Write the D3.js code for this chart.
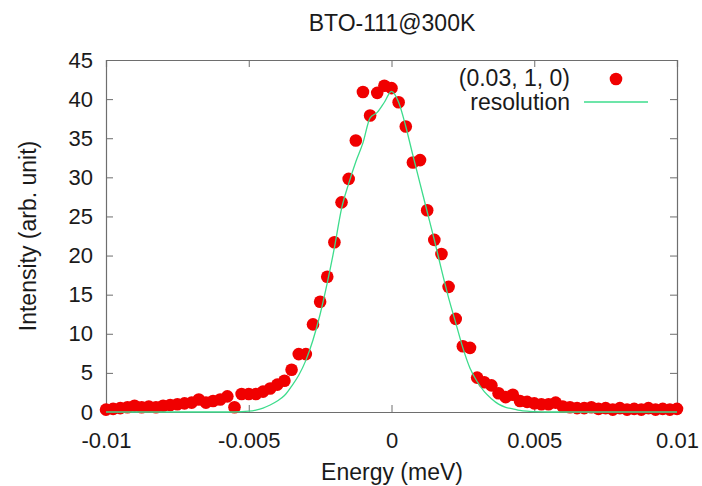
<!DOCTYPE html>
<html><head><meta charset="utf-8">
<script src="https://cdn.jsdelivr.net/npm/d3@7"></script>
<style>body{margin:0;background:#fff;} text{font-family:"Liberation Sans",Arial,sans-serif;fill:#1a1a1a;}</style>
</head><body><svg id="c" width="702" height="486"></svg>
<script>
const energy = [-0.01,-0.00975,-0.0095,-0.00925,-0.009,-0.00875,-0.0085,-0.00825,-0.008,-0.00775,
-0.0075,-0.00725,-0.007,-0.00675,-0.0065,-0.00625,-0.006,-0.00575,-0.0055,-0.00525,
-0.005,-0.00475,-0.0045,-0.00425,-0.004,-0.00375,-0.0035,-0.00325,-0.003,-0.00275,
-0.0025,-0.00225,-0.002,-0.00175,-0.0015,-0.00125,-0.001,-0.00075,-0.0005,-0.00025,
0,0.00025,0.0005,0.00075,0.001,0.00125,0.0015,0.00175,0.002,0.00225,
0.0025,0.00275,0.003,0.00325,0.0035,0.00375,0.004,0.00425,0.0045,0.00475,
0.005,0.00525,0.0055,0.00575,0.006,0.00625,0.0065,0.00675,0.007,0.00725,
0.0075,0.00775,0.008,0.00825,0.0085,0.00875,0.009,0.00925,0.0095,0.00975,0.01];
const intensity = [0.3,0.4,0.5,0.6,0.8,0.6,0.7,0.6,0.8,0.9,
1.0,1.1,1.2,1.6,1.2,1.4,1.6,2.0,0.6,2.3,
2.3,2.3,2.6,3.0,3.5,4.0,5.4,7.4,7.4,11.2,
14.1,17.3,21.7,26.8,29.8,34.7,40.9,37.9,40.8,41.7,
41.4,39.6,36.5,31.9,32.2,25.8,22.0,20.2,16.0,11.9,
8.4,8.2,4.4,3.8,3.4,2.4,1.9,2.2,1.4,1.3,
1.1,1.0,1.0,1.2,0.7,0.6,0.5,0.5,0.6,0.4,
0.5,0.3,0.5,0.3,0.4,0.3,0.5,0.3,0.4,0.3,0.4];
const resEnergy = [-0.01,-0.0055,-0.005,-0.00475,-0.0045,-0.00425,-0.004,-0.00375,-0.0035,-0.00325,-0.003,
-0.00275,-0.0025,-0.00225,-0.002,-0.00175,-0.0015,-0.00125,-0.001,-0.00075,-0.0005,-0.00025,
0,0.00025,0.0005,0.00075,0.001,0.00125,0.0015,0.00175,0.002,0.00225,0.0025,0.00275,
0.003,0.00325,0.0035,0.00375,0.004,0.00425,0.0045,0.00475,0.005,0.0055,0.01];
const resValue = [0,0,0.1,0.25,0.5,0.9,1.4,2.1,3.3,4.7,6.6,
9.2,12.5,16.5,21.0,26.0,29.2,32.0,34.4,37.6,38.3,39.6,
41.0,39.6,36.5,32.8,29.2,25.6,22.0,18.2,14.6,11.4,8.2,5.6,
3.9,2.6,1.7,1.0,0.6,0.4,0.2,0.1,0.05,0,0];
const xTicks = [-0.01,-0.005,0,0.005,0.01];
const xTickLabels = ["-0.01","-0.005","0","0.005","0.01"];
const yTicks = [0,5,10,15,20,25,30,35,40,45];
const titleText = "BTO-111@300K";
const xLabel = "Energy (meV)";
const yLabel = "Intensity (arb. unit)";
const seriesNames = ["(0.03, 1, 0)","resolution"];

const svg = d3.select("#c");
const L=106,R=677,T=60,B=412;
const x = d3.scaleLinear().domain([-0.01,0.01]).range([L,R]);
const y = d3.scaleLinear().domain([0,45]).range([B,T]);
const fs = 23;
const frameCol = "#6e6e6e";

// title
svg.append("text").attr("x",392).attr("y",31).attr("text-anchor","middle").attr("font-size",fs).text(titleText);

// axes with inward ticks
const gx = svg.append("g").attr("transform",`translate(0,${B})`)
  .call(d3.axisBottom(x).tickValues(xTicks).tickSize(-7).tickPadding(20).tickFormat((d,i)=>xTickLabels[i]));
const gxt = svg.append("g").attr("transform",`translate(0,${T})`)
  .call(d3.axisTop(x).tickValues(xTicks).tickSize(-7).tickFormat(""));
const gy = svg.append("g").attr("transform",`translate(${L},0)`)
  .call(d3.axisLeft(y).tickValues(yTicks).tickSize(-7).tickPadding(13));
const gyr = svg.append("g").attr("transform",`translate(${R},0)`)
  .call(d3.axisRight(y).tickValues(yTicks).tickSize(-7).tickFormat(""));
[gx,gxt,gy,gyr].forEach(g=>{
  g.selectAll(".domain").attr("stroke",frameCol).attr("stroke-width",1.2);
  g.selectAll(".tick line").attr("stroke",frameCol);
  g.selectAll(".tick text").attr("font-size",fs-1).attr("fill","#1a1a1a").attr("font-family","Liberation Sans, Arial, sans-serif");
});

// axis labels
svg.append("text").attr("x",392).attr("y",480).attr("text-anchor","middle").attr("font-size",fs).text(xLabel);
svg.append("text").attr("transform",`translate(36,${(T+B)/2}) rotate(-90)`).attr("text-anchor","middle").attr("font-size",fs).text(yLabel);

// data points
svg.append("g").selectAll("circle").data(energy).join("circle")
  .attr("cx",(d)=>x(d)).attr("cy",(d,i)=>y(intensity[i])).attr("r",6.3)
  .attr("fill","#f00000");

// resolution line
const line = d3.line().x(d=>x(d[0])).y(d=>y(d[1])).curve(d3.curveMonotoneX);
svg.append("path").datum(resEnergy.map((e,i)=>[e,resValue[i]]))
  .attr("d",line).attr("fill","none").attr("stroke","#3ddc8c").attr("stroke-width",1.3);

// legend
svg.append("text").attr("x",570).attr("y",86).attr("text-anchor","end").attr("font-size",fs).text(seriesNames[0]);
svg.append("circle").attr("cx",616).attr("cy",79).attr("r",6.3).attr("fill","#f00000");
svg.append("text").attr("x",570).attr("y",110).attr("text-anchor","end").attr("font-size",fs).text(seriesNames[1]);
svg.append("line").attr("x1",584).attr("x2",648).attr("y1",102).attr("y2",102).attr("stroke","#3ddc8c").attr("stroke-width",1.3);
</script></body></html>
